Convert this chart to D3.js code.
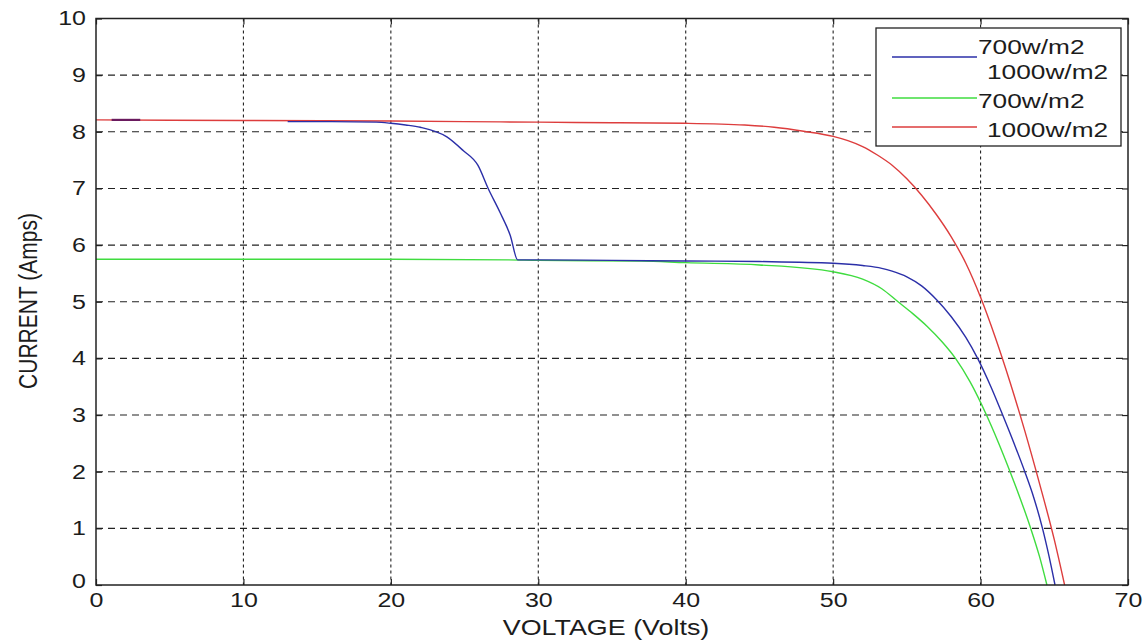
<!DOCTYPE html>
<html>
<head>
<meta charset="utf-8">
<script src="https://cdn.jsdelivr.net/npm/d3@7"></script>
<style>
  body { margin: 0; background: #fff; }
  svg { display: block; }
  text { font-family: "Liberation Sans", Arial, Helvetica, sans-serif; fill: #1c1c1c; }
</style>
</head>
<body>
<svg id="chart" width="1148" height="643"></svg>
<script>
// I-V characteristics of a PV array at two irradiance levels
const xTicks = [0, 10, 20, 30, 40, 50, 60, 70];
const yTicks = [0, 1, 2, 3, 4, 5, 6, 7, 8, 9, 10];

// 1000 W/m2 curve
const redV = [0, 10, 20, 25, 30, 35, 40, 44, 46, 48, 50, 51, 52, 53, 54, 55, 56, 57, 58, 59, 60, 61, 62, 63, 64, 65, 65.7];
const redI = [8.21, 8.2, 8.19, 8.18, 8.17, 8.16, 8.15, 8.12, 8.08, 8.01, 7.92, 7.845, 7.74, 7.59, 7.41, 7.17, 6.88, 6.54, 6.15, 5.68, 5.08, 4.37, 3.58, 2.72, 1.79, 0.8, 0];

// 700 W/m2 curve
const greenV = [0, 10, 20, 28, 30, 37, 40, 45, 50, 52, 53.3, 54.4, 55.4, 56.4, 57.4, 58.3, 59.3, 60.4, 61.2, 62, 62.7, 63.4, 64, 64.5];
const greenI = [5.75, 5.75, 5.75, 5.74, 5.73, 5.72, 5.69, 5.65, 5.53, 5.4, 5.23, 5.0, 4.79, 4.56, 4.29, 4.0, 3.58, 3.0, 2.52, 2.0, 1.52, 1.0, 0.5, 0];

// combined 700 / 1000 W/m2 curve (two traced segments)
const blueV1 = [1.06, 3.0];
const blueI1 = [8.21, 8.21];
const blueV2 = [13, 16, 19, 20, 21, 22, 23.8, 24.9, 25.9, 26.6, 27.4, 28.1, 28.6, 30, 35, 40, 45, 50, 52, 53.3, 54, 55, 56, 57, 58, 59, 59.8, 60.7, 61.5, 62.3, 63, 63.6, 64.2, 64.65, 65.05];
const blueI2 = [8.18, 8.18, 8.17, 8.15, 8.12, 8.08, 7.91, 7.67, 7.41, 7.0, 6.58, 6.17, 5.74, 5.74, 5.73, 5.72, 5.71, 5.68, 5.64, 5.59, 5.54, 5.44, 5.28, 5.04, 4.74, 4.37, 4.0, 3.5, 3.0, 2.48, 2.0, 1.55, 1.0, 0.5, 0];

const legendLabels = ["700w/m2\n1000w/m2", "700w/m2", "1000w/m2"];
const colors = { blue: "#2b2fa8", green: "#3fdc3f", red: "#dd3d3d" };

const STRETCH = 1.25; // horizontal glyph stretch

const svg = d3.select("#chart");
const plotLeft = 96, plotRight = 1128, plotTop = 18.5, plotBottom = 585;

const x = d3.scaleLinear().domain([0, 70]).range([plotLeft, plotRight]);
const y = d3.scaleLinear().domain([0, 10]).range([plotBottom, plotTop]);

// grid
const grid = svg.append("g").attr("stroke", "#222").attr("stroke-width", 1.1);
grid.selectAll("line.v").data(xTicks.filter(d => d > 0 && d < 70)).join("line")
  .attr("class", "v")
  .attr("x1", d => x(d)).attr("x2", d => x(d))
  .attr("y1", plotTop).attr("y2", plotBottom)
  .attr("stroke-dasharray", "3,3");
grid.selectAll("line.h").data(yTicks.filter(d => d > 0 && d < 10)).join("line")
  .attr("class", "h")
  .attr("x1", plotLeft).attr("x2", plotRight)
  .attr("y1", d => y(d)).attr("y2", d => y(d))
  .attr("stroke-dasharray", "7,5");

// axes with inward ticks on all four sides
const tickLen = 6;
const gx = svg.append("g").attr("transform", `translate(0,${plotBottom})`)
  .call(d3.axisBottom(x).tickValues(xTicks).tickSizeInner(-tickLen).tickSizeOuter(0).tickPadding(8));
const gy = svg.append("g").attr("transform", `translate(${plotLeft},0)`)
  .call(d3.axisLeft(y).tickValues(yTicks).tickSizeInner(-tickLen).tickSizeOuter(0).tickPadding(8));
const gxt = svg.append("g").attr("transform", `translate(0,${plotTop})`)
  .call(d3.axisTop(x).tickValues(xTicks).tickSizeInner(-tickLen).tickSizeOuter(0).tickFormat(""));
const gyr = svg.append("g").attr("transform", `translate(${plotRight},0)`)
  .call(d3.axisRight(y).tickValues(yTicks).tickSizeInner(-tickLen).tickSizeOuter(0).tickFormat(""));

[gx, gy, gxt, gyr].forEach(g => {
  g.attr("font-family", null);
  g.select(".domain").remove();
  g.selectAll(".tick line").attr("stroke", "#222").attr("stroke-width", 1.2);
});
gx.selectAll(".tick text").attr("font-size", 20).attr("fill", "#1c1c1c")
  .attr("dy", "0.7em")
  .attr("transform", `scale(${STRETCH},1)`);
gy.selectAll(".tick text").attr("font-size", 20).attr("fill", "#1c1c1c")
  .attr("x", -10 / STRETCH)
  .attr("transform", `scale(${STRETCH},1)`);
gy.selectAll(".tick").filter(d => d === 0).select("text").attr("dy", "0.1em");

// curves
const line = d3.line().x(d => x(d[0])).y(d => y(d[1])).curve(d3.curveMonotoneX);
const zip = (a, b) => a.map((v, i) => [v, b[i]]);

const curves = svg.append("g").attr("fill", "none").attr("stroke-width", 1.4);
curves.append("path").attr("d", line(zip(greenV, greenI))).attr("stroke", colors.green);
curves.append("path").attr("d", line(zip(redV, redI))).attr("stroke", colors.red);
curves.append("path").attr("d", line(zip(blueV2, blueI2))).attr("stroke", colors.blue);
curves.append("path").attr("d", line(zip(blueV1, blueI1))).attr("stroke", "#6a1a5e").attr("stroke-width", 2.2);

// plot frame
svg.append("rect")
  .attr("x", plotLeft).attr("y", plotTop)
  .attr("width", plotRight - plotLeft).attr("height", plotBottom - plotTop)
  .attr("fill", "none").attr("stroke", "#222").attr("stroke-width", 1.5);

// axis titles
svg.append("text")
  .attr("transform", `translate(${606},${635}) scale(${STRETCH},1)`)
  .attr("text-anchor", "middle").attr("font-size", 21.5)
  .text("VOLTAGE (Volts)");
svg.append("text")
  .attr("transform", `translate(${37},${301}) scale(${STRETCH},1) rotate(-90)`)
  .attr("text-anchor", "middle").attr("font-size", 21)
  .text("CURRENT (Amps)");

// legend
const lg = svg.append("g");
lg.append("rect").attr("x", 876).attr("y", 28).attr("width", 245).attr("height", 118)
  .attr("fill", "#fff").attr("stroke", "#222").attr("stroke-width", 1.3);
const legendItems = [
  { color: colors.blue, ly: 57, lines: legendLabels[0].split("\n"), ty: [46, 71] },
  { color: colors.green, ly: 98, lines: [legendLabels[1]], ty: [100] },
  { color: colors.red, ly: 127, lines: [legendLabels[2]], ty: [129] }
];
legendItems.forEach(it => {
  lg.append("line").attr("x1", 892).attr("x2", 977).attr("y1", it.ly).attr("y2", it.ly)
    .attr("stroke", it.color).attr("stroke-width", 1.4);
  it.lines.forEach((t, i) => {
    lg.append("text")
      .attr("transform", `translate(${t.startsWith("1000") ? 987 : 978},${it.ty[i]}) scale(${STRETCH},1)`)
      .attr("dominant-baseline", "central").attr("font-size", 21)
      .text(t);
  });
});
</script>
</body>
</html>
